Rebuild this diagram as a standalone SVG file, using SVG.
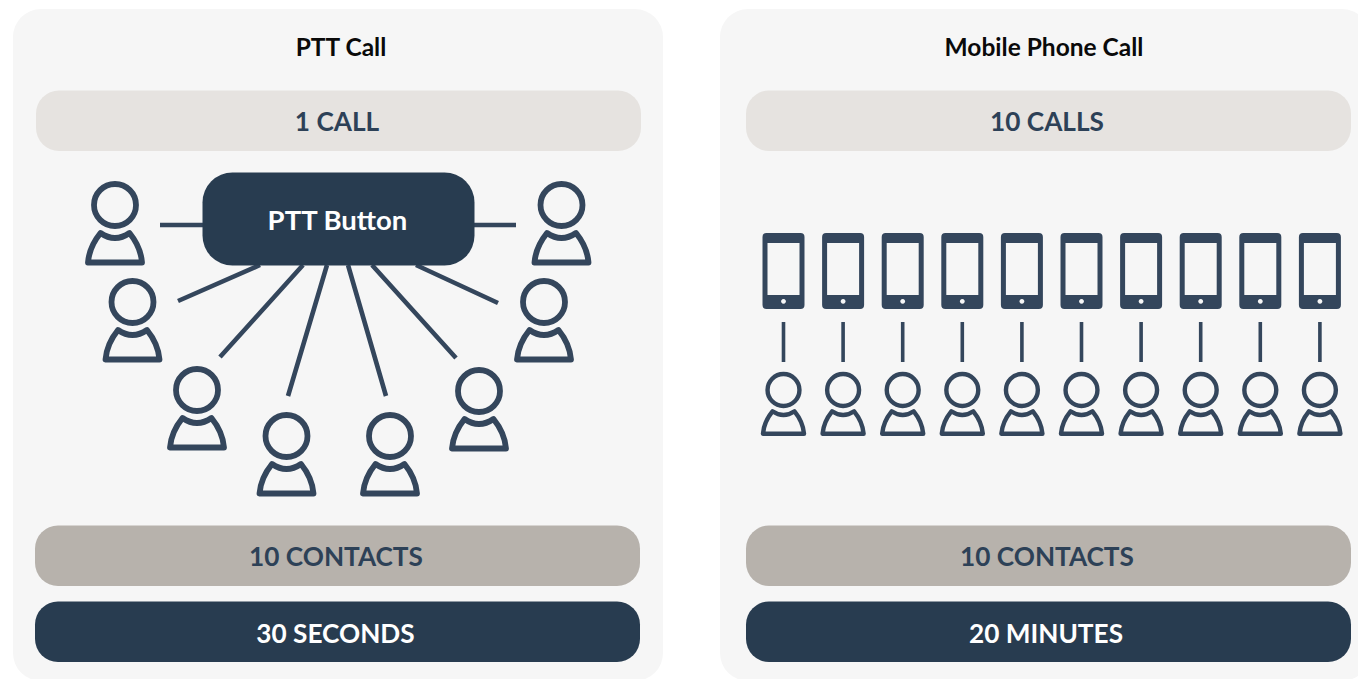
<svg xmlns="http://www.w3.org/2000/svg" width="1358" height="679" viewBox="0 0 1358 679">
<style>
text{font-family:"Lato","Noto Sans",sans-serif;text-anchor:middle;font-weight:700}
.title{font-size:24.500px;fill:#0a0a0a}
.bar{font-size:26.200px;fill:#2d4157}
.white{fill:#fff}
.card{fill:#f6f6f6}
.light{fill:#e6e3e0}
.mid{fill:#b7b2ac}
.dark{fill:#283c50}
.conn{stroke:#34465c;stroke-width:4.600;fill:none}
.conn2{stroke:#34465c;stroke-width:3.600;fill:none}
.p{fill:none;stroke:#34465c;stroke-width:5.800;stroke-linejoin:round}
</style>
<defs>
<g id="person">
<circle cx="0" cy="0" r="21" class="p"/>
<path class="p" d="M-27,57.500H27C26,45 21,36 14.500,28Q0,38 -14.500,28C-21,36 -26,45 -27,57.500Z"/>
</g>
<g id="phone">
<path fill="#34465c" fill-rule="evenodd" d="M4,0H38a4,4 0 0 1 4,4V72a4,4 0 0 1 -4,4H4a4,4 0 0 1 -4,-4V4a4,4 0 0 1 4,-4ZM5,10V62H37V10ZM21,66a2.400,2.400 0 1 0 0.010,0Z"/>
</g>
</defs>
<rect width="1358" height="679" fill="#fff"/>
<g id="card-ptt">
<rect class="card" x="13" y="9" width="650" height="672" rx="28"/>
<text class="title" x="341" y="55.500">PTT Call</text>
<rect class="light" x="36" y="90.500" width="605" height="60.500" rx="23"/>
<text class="bar" x="337" y="130.800">1 CALL</text>
<rect class="mid" x="35" y="525.500" width="605" height="60.500" rx="23"/>
<text class="bar" x="336" y="565.800">10 CONTACTS</text>
<rect class="dark" x="35" y="601.500" width="605" height="60.500" rx="23"/>
<text class="bar white" x="335.500" y="642.800">30 SECONDS</text>
</g>
<g id="card-mobile">
<rect class="card" x="720" y="9" width="650" height="672" rx="28"/>
<text class="title" x="1044" y="55.500">Mobile Phone Call</text>
<rect class="light" x="746" y="90.500" width="605" height="60.500" rx="23"/>
<text class="bar" x="1047" y="130.800">10 CALLS</text>
<rect class="mid" x="746" y="525.500" width="605" height="60.500" rx="23"/>
<text class="bar" x="1047" y="565.800">10 CONTACTS</text>
<rect class="dark" x="746" y="601.500" width="605" height="60.500" rx="23"/>
<text class="bar white" x="1046" y="642.800">20 MINUTES</text>
</g>
<g id="connectors">
<path class="conn" d="M160,225H203M474,225H516M178,301L260,265M220,357L303,265M288,396L327,265M386,396L348,265M456,358L372,265M498,303L416,265"/>
<path class="conn2" d="M783.500,322V362M843.100,322V362M902.700,322V362M962.300,322V362M1021.900,322V362M1081.500,322V362M1141.100,322V362M1200.700,322V362M1260.300,322V362M1319.900,322V362"/>
</g>
<g id="ptt-button">
<rect class="dark" x="202.500" y="172.500" width="272" height="93" rx="30"/>
<text class="white" x="337.500" y="229.800" font-size="27.500">PTT Button</text>
</g>
<g id="ptt-people">
<use id="u1" href="#person" x="115" y="205"/>
<use id="u2" href="#person" x="132.500" y="302"/>
<use id="u3" href="#person" x="197" y="390"/>
<use id="u4" href="#person" x="286.500" y="436"/>
<use id="u5" href="#person" x="390" y="436"/>
<use id="u6" href="#person" x="479" y="391"/>
<use id="u7" href="#person" x="544" y="302"/>
<use id="u8" href="#person" x="561.500" y="205"/>
</g>
<g id="phones">
<use href="#phone" x="762.500" y="233"/>
<use href="#phone" x="822.100" y="233"/>
<use href="#phone" x="881.700" y="233"/>
<use href="#phone" x="941.300" y="233"/>
<use href="#phone" x="1000.900" y="233"/>
<use href="#phone" x="1060.500" y="233"/>
<use href="#phone" x="1120.100" y="233"/>
<use href="#phone" x="1179.700" y="233"/>
<use href="#phone" x="1239.300" y="233"/>
<use href="#phone" x="1298.900" y="233"/>
</g>
<g id="mobile-people">
<use href="#person" transform="translate(783.500 390) scale(.76)"/>
<use href="#person" transform="translate(843.100 390) scale(.76)"/>
<use href="#person" transform="translate(902.700 390) scale(.76)"/>
<use href="#person" transform="translate(962.300 390) scale(.76)"/>
<use href="#person" transform="translate(1021.900 390) scale(.76)"/>
<use href="#person" transform="translate(1081.500 390) scale(.76)"/>
<use href="#person" transform="translate(1141.100 390) scale(.76)"/>
<use href="#person" transform="translate(1200.700 390) scale(.76)"/>
<use href="#person" transform="translate(1260.300 390) scale(.76)"/>
<use href="#person" transform="translate(1319.900 390) scale(.76)"/>
</g>
</svg>
